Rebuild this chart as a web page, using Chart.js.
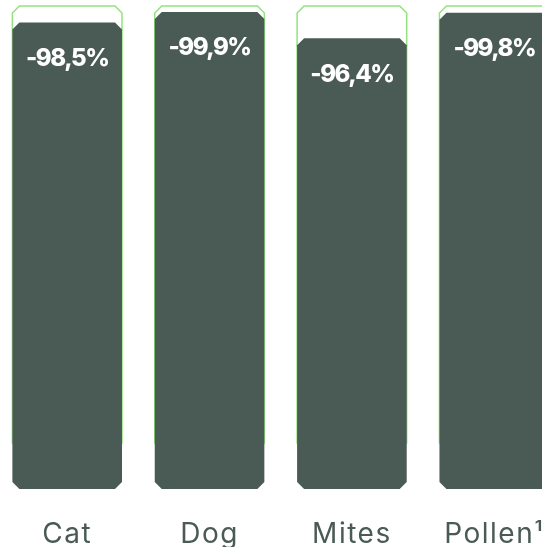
<!DOCTYPE html>
<html>
<head>
<meta charset="utf-8">
<script src="https://cdn.jsdelivr.net/npm/chart.js@4.4.1/dist/chart.umd.min.js"></script>
<style>
	html, body { margin: 0; padding: 0; background: #fff; overflow: hidden; }
	#wrap { position: absolute; left: -4px; top: 0; width: 572px; height: 547px; }
</style>
</head>
<body>
<div id="wrap"><canvas id="reduction-chart"></canvas></div>
<script>
const categories = [ 'Cat', 'Dog', 'Mites', 'Pollen¹' ];
const reductionValues = [ 98.5, 99.9, 96.4, 99.8 ];
const fullScaleValues = [ 100.7, 100.7, 100.7, 100.7 ];

const barColor = '#4a5a55';
const outlineColor = '#93e27f';
const axisMin = 36.5;
const axisMax = 100.7;

// draws a bar with cut (chamfered) corners instead of rounded ones
function chamferPath( ctx, left, right, top, bottom, cut, closeBottom ) {
	ctx.beginPath();
	ctx.moveTo( left, closeBottom ? bottom - cut : bottom );
	ctx.lineTo( left, top + cut );
	ctx.lineTo( left + cut, top );
	ctx.lineTo( right - cut, top );
	ctx.lineTo( right, top + cut );
	ctx.lineTo( right, closeBottom ? bottom - cut : bottom );
	if ( closeBottom ) {
		ctx.lineTo( right - cut, bottom );
		ctx.lineTo( left + cut, bottom );
		ctx.closePath();
	}
}

const chamferBars = {
	id: 'chamferBars',
	beforeDatasetDraw( chart, args ) {
		const ctx = chart.ctx;
		const ds = chart.data.datasets[ args.index ];
		ctx.save();
		args.meta.data.forEach( ( bar ) => {
			const { x, y, base, width } = bar.getProps( [ 'x', 'y', 'base', 'width' ], true );
			const left = x - width / 2;
			const right = x + width / 2;
			if ( ds.outline ) {
				chamferPath( ctx, left, right, y, base, 7, false );
				ctx.strokeStyle = outlineColor;
				ctx.lineWidth = 1.5;
				ctx.stroke();
			} else {
				chamferPath( ctx, left, right, y, base, 7, true );
				ctx.fillStyle = barColor;
				ctx.fill();
			}
		} );
		ctx.restore();
		return false;
	},
	afterDatasetsDraw( chart ) {
		const ctx = chart.ctx;
		const meta = chart.getDatasetMeta( 0 );
		ctx.save();
		ctx.fillStyle = '#ffffff';
		ctx.font = '800 24px Inter';
		ctx.letterSpacing = '-1.5px';
		ctx.textAlign = 'center';
		ctx.textBaseline = 'middle';
		meta.data.forEach( ( bar, i ) => {
			const label = '-' + reductionValues[ i ].toFixed( 1 ).replace( '.', ',' ) + '%';
			ctx.fillText( label, bar.x, bar.y + 36 );
		} );
		ctx.restore();
	},
	beforeDraw( chart ) {
		chart.ctx.letterSpacing = '1.5px';
	},
};

new Chart( document.getElementById( 'reduction-chart' ), {
	type: 'bar',
	data: {
		labels: categories,
		datasets: [
			{
				label: 'Reduction',
				data: reductionValues,
				base: axisMin,
				backgroundColor: barColor,
				grouped: false,
				order: 0,
			},
			{
				label: 'Full scale',
				data: fullScaleValues,
				base: 42.5,
				outline: true,
				backgroundColor: 'transparent',
				borderColor: outlineColor,
				grouped: false,
				order: 1,
			},
		],
	},
	options: {
		responsive: true,
		maintainAspectRatio: false,
		animation: false,
		devicePixelRatio: 1,
		categoryPercentage: 1,
		barPercentage: 0.77,
		layout: { padding: { top: 6, left: 0, right: 0, bottom: 0 } },
		plugins: {
			legend: { display: false },
			tooltip: { enabled: false },
		},
		scales: {
			x: {
				grid: { display: false, drawTicks: false },
				border: { display: false },
				afterFit( scale ) {
					scale.height = 58;
				},
				ticks: {
					color: '#4a5a55',
					padding: 29,
					maxRotation: 0,
					autoSkip: false,
					font: { family: 'Inter', size: 28, weight: '400' },
				},
			},
			y: {
				display: false,
				min: axisMin,
				max: axisMax,
			},
		},
	},
	plugins: [ chamferBars ],
} );
</script>
</body>
</html>
